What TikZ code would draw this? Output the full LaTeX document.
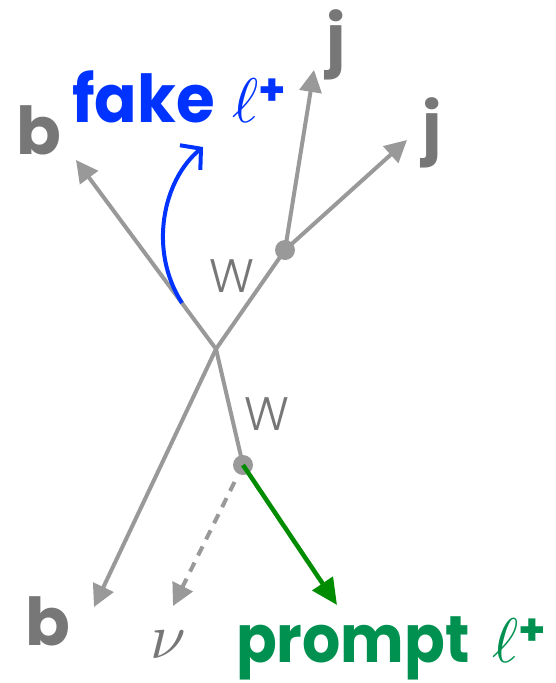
\documentclass[tikz,border=0pt]{standalone}
\usepackage{fontspec}
\newfontfamily\pop{Poppins}
\newfontfamily\popl{Poppins Light}
\usetikzlibrary{arrows.meta,calc}
\definecolor{lgray}{HTML}{999999}
\definecolor{dgray}{HTML}{777777}
\definecolor{fblue}{HTML}{0033FF}
\definecolor{pgreen}{HTML}{009150}
\definecolor{agreen}{HTML}{008C00}
\newcommand{\bigfont}{\pop\bfseries\fontsize{66}{70}\selectfont}
\newcommand{\supplus}{\raisebox{17pt}{\pop\bfseries\fontsize{44}{44}\selectfont +}}
\newcommand{\bigell}{\scalebox{6.3}{\fontsize{10}{12}\selectfont$\ell$}}
\tikzset{
  line/.style={draw=lgray, line width=4pt},
  tri/.style={-{Triangle[length=22pt,width=22pt]}},
  lbl/.style={inner sep=0pt, anchor=base west, font=\bigfont, text=dgray},
  wlbl/.style={inner sep=0pt, anchor=base west, font=\popl\fontsize{47}{50}\selectfont, text=dgray},
  vdot/.style={circle, fill=lgray, minimum size=20pt, inner sep=0pt},
}
\begin{document}
\begin{tikzpicture}[x=1pt,y=-1pt]
\useasboundingbox (0,0) rectangle (555,683);
% vertices
\coordinate (c) at (216,349);
\coordinate (v1) at (285,250);
\coordinate (v2) at (243,465);
% tips
\coordinate (tb1) at (76,160);
\coordinate (tb2) at (94,607);
\coordinate (tj1) at (314,70);
\coordinate (tj2) at (407,140);
\coordinate (tnu) at (173,606);
\coordinate (tl) at (337,605);
\coordinate (fs) at (182,303);
\coordinate (fe) at (203,147);
% lines
\draw[line, tri] (c) -- (tb1);
\draw[line, tri] (c) -- (tb2);
\draw[line] (c) -- (v1);
\draw[line] (c) -- (v2);
\draw[line, tri] (v1) -- (tj1);
\draw[line, tri] (v1) -- (tj2);
\draw[line, tri, dash pattern=on 10pt off 8pt, shorten <=19pt] (v2) -- (tnu);
\node[vdot] (w1) at (v1) {};
\node[vdot] (w2) at (v2) {};
\draw[draw=agreen, line width=4.5pt, -{Triangle[length=26pt,width=24pt]}] (w2.center) -- (tl);
\draw[draw=fblue, line width=4pt, -{Straight Barb[length=14pt,width=32pt,line width=4pt]}] (fs) .. controls (148,250) and (163,180) .. (fe);
% labels
\node[lbl] (b1) at (16,154) {b};
\node[lbl] (b2) at (25,645) {b};
\node[lbl] (j1) at (326,62) {j};
\node[lbl] (j2) at (422,150) {j};
\node[wlbl] (W1) at (209,292) {W};
\node[wlbl] (W2) at (244,430) {W};
\node[inner sep=0pt, anchor=base west, text=dgray] (nu) at (150,658) {\scalebox{6.4}{$\nu$}};
\node[inner sep=0pt, anchor=base west, text=fblue, font=\bigfont] (fake) at (72,122) {\scalebox{0.95}[1]{fake}\hspace{18pt}\bigell\supplus};
\node[inner sep=0pt, anchor=base west, text=pgreen, font=\bigfont] (prompt) at (236,662) {\scalebox{0.91}[1]{prompt}\hspace{23pt}\bigell\supplus};
\end{tikzpicture}
\end{document}
